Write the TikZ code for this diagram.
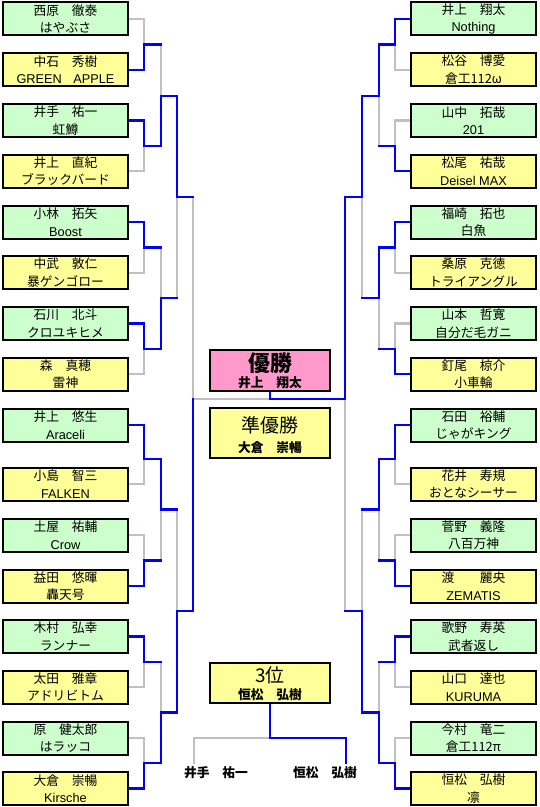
\documentclass[tikz,border=0pt]{standalone}
\usepackage{fontspec}
\setmainfont{Noto Sans CJK JP}
\newfontfamily\latfont{Liberation Sans}
\usetikzlibrary{calc}
\pgfdeclarelayer{whitebg}
\pgfdeclarelayer{graylines}
\pgfdeclarelayer{bluelines}
\pgfsetlayers{whitebg,graylines,bluelines,main}
\definecolor{boxgreen}{HTML}{CCFFCC}
\definecolor{boxyellow}{HTML}{FFFF99}
\definecolor{boxpink}{HTML}{FF99CC}
\definecolor{wblue}{HTML}{0000FF}
\definecolor{lgray}{HTML}{C0C0C0}
% winner, loser, junction (first round, from boxes)
\newcommand\bkfirst[3]{%
  \begin{pgfonlayer}{graylines}\draw[lose] (#2) -| (#3);\end{pgfonlayer}%
  \begin{pgfonlayer}{bluelines}\draw[win] (#1) -| (#3);\end{pgfonlayer}}
% winner junction, loser junction, next junction
\newcommand\bknext[3]{%
  \begin{pgfonlayer}{bluelines}\draw[win] (#1) -| (#3);\draw[win] (#2) -- (#2 -| #3);\end{pgfonlayer}%
  \begin{pgfonlayer}{graylines}\draw[lose] (#2 -| #3) -- (#3);\end{pgfonlayer}}
\begin{document}
\begin{tikzpicture}[x=1bp,y=-1bp,
  pbox/.style={draw=black, line width=2bp, minimum width=125bp, minimum height=33bp,
    inner sep=0pt, align=center, font=\fontsize{12.8}{17.5}\selectfont},
  gbox/.style={pbox, fill=boxgreen},
  ybox/.style={pbox, fill=boxyellow},
  cbox/.style={draw=black, line width=2bp, minimum width=120bp, inner sep=0pt},
  win/.style={draw=wblue, line width=2.2bp, line cap=rect},
  lose/.style={draw=lgray, line width=2.2bp, line cap=rect},
  boldname/.style={font=\fontsize{12.8}{14}\selectfont\bfseries, inner sep=0pt},
  bigtitle/.style={font=\fontsize{19}{20}\selectfont, inner sep=0pt}]
\begin{pgfonlayer}{whitebg}\fill[white] (0,0) rectangle (540,807);\end{pgfonlayer}
\useasboundingbox (0,0) rectangle (540,807);

% ---------- left boxes ----------
\node[gbox] (L1)  at (65.5,19)     {西原　徹泰\\はやぶさ};
\node[ybox] (L2)  at (65.5,69.75)  {中石　秀樹\\{\latfont GREEN\hspace{0.9em}APPLE}};
\node[gbox] (L3)  at (65.5,120.5)  {井手　祐一\\虹鱒};
\node[ybox] (L4)  at (65.5,171.25) {井上　直紀\\ブラックバード};
\node[gbox] (L5)  at (65.5,222)    {小林　拓矢\\{\latfont Boost}};
\node[ybox] (L6)  at (65.5,272.75) {中武　敦仁\\暴ゲンゴロー};
\node[gbox] (L7)  at (65.5,323.5)  {石川　北斗\\クロユキヒメ};
\node[ybox] (L8)  at (65.5,374.25) {森　真穂\\雷神};
\node[gbox] (L9)  at (65.5,425)    {井上　悠生\\{\latfont Araceli}};
\node[ybox] (L10) at (65.5,484)    {小島　智三\\{\latfont FALKEN}};
\node[gbox] (L11) at (65.5,535)    {土屋　祐輔\\{\latfont Crow}};
\node[ybox] (L12) at (65.5,586)    {益田　悠暉\\轟天号};
\node[gbox] (L13) at (65.5,636.5)  {木村　弘幸\\ランナー};
\node[ybox] (L14) at (65.5,687)    {太田　雅章\\アドリビトム};
\node[gbox] (L15) at (65.5,738)    {原　健太郎\\はラッコ};
\node[ybox] (L16) at (65.5,788.5)  {大倉　崇暢\\{\latfont Kirsche}};

% ---------- right boxes ----------
\node[gbox] (R1)  at (473.5,19)     {井上　翔太\\{\latfont Nothing}};
\node[ybox] (R2)  at (473.5,69.75)  {松谷　博愛\\倉工112ω};
\node[gbox] (R3)  at (473.5,120.5)  {山中　拓哉\\{\latfont 201}};
\node[ybox] (R4)  at (473.5,171.25) {松尾　祐哉\\{\latfont Deisel MAX}};
\node[gbox] (R5)  at (473.5,222)    {福崎　拓也\\白魚};
\node[ybox] (R6)  at (473.5,272.75) {桑原　克徳\\トライアングル};
\node[gbox] (R7)  at (473.5,323.5)  {山本　哲寛\\自分だ毛ガニ};
\node[ybox] (R8)  at (473.5,374.25) {釘尾　椋介\\小車輪};
\node[gbox] (R9)  at (473.5,425)    {石田　裕輔\\じゃがキング};
\node[ybox] (R10) at (473.5,484)    {花井　寿規\\おとなシーサー};
\node[gbox] (R11) at (473.5,535)    {菅野　義隆\\八百万神};
\node[ybox] (R12) at (473.5,586)    {渡　　麗央\\{\latfont ZEMATIS}};
\node[gbox] (R13) at (473.5,636.5)  {歌野　寿英\\武者返し};
\node[ybox] (R14) at (473.5,687)    {山口　達也\\{\latfont KURUMA}};
\node[gbox] (R15) at (473.5,738)    {今村　竜二\\倉工112π};
\node[ybox] (R16) at (473.5,788.5)  {恒松　弘樹\\凛};

% ---------- centre boxes ----------
\node[cbox, fill=boxpink, minimum height=41bp] (W) at (270,370.5) {};
\node[font=\fontsize{22}{24}\selectfont\bfseries, inner sep=0pt] (Wt) at (270,363) {優勝};
\node[boldname] (Wn) at (270,383) {井上　翔太};
\node[cbox, fill=boxyellow, minimum height=50bp] (S) at (270,433) {};
\node[bigtitle] (St) at (270,425) {準優勝};
\node[boldname] (Sn) at (270,448) {大倉　崇暢};
\node[cbox, fill=boxyellow, minimum height=40bp] (T) at (270,683) {};
\node[bigtitle] (Tt) at (270,675) {3位};
\node[boldname] (Tn) at (270,695) {恒松　弘樹};
\node[boldname] (N3L) at (216,773) {井手　祐一};
\node[boldname] (N3R) at (325,773) {恒松　弘樹};

% ---------- junctions ----------
\foreach \s/\a/\b/\c/\d in {L/144/161/177/193, R/395/379/362/345}{
  \coordinate (J1\s) at (\a,44.5);
  \coordinate (J2\s) at (\a,146);
  \coordinate (J3\s) at (\a,247.5);
  \coordinate (J4\s) at (\a,349);
  \coordinate (J5\s) at (\a,459);
  \coordinate (J6\s) at (\a,560.5);
  \coordinate (J7\s) at (\a,662);
  \coordinate (J8\s) at (\a,763);
  \coordinate (K1\s) at (\b,96);
  \coordinate (K2\s) at (\b,298);
  \coordinate (K3\s) at (\b,509.5);
  \coordinate (K4\s) at (\b,712.5);
  \coordinate (M1\s) at (\c,197);
  \coordinate (M2\s) at (\c,611);
  \coordinate (F\s)  at (\d,399);
}
\coordinate (TJ) at (270,738);
\coordinate (TL) at (194,763);
\coordinate (TR) at (346,763);

% ---------- left bracket ----------
\bkfirst{L2}{L1}{J1L}
\bkfirst{L3}{L4}{J2L}
\bkfirst{L5}{L6}{J3L}
\bkfirst{L7}{L8}{J4L}
\bkfirst{L9}{L10}{J5L}
\bkfirst{L12}{L11}{J6L}
\bkfirst{L13}{L14}{J7L}
\bkfirst{L16}{L15}{J8L}
\bknext{J2L}{J1L}{K1L}
\bknext{J4L}{J3L}{K2L}
\bknext{J5L}{J6L}{K3L}
\bknext{J8L}{J7L}{K4L}
\bknext{K1L}{K2L}{M1L}
\bknext{K4L}{K3L}{M2L}
\bknext{M2L}{M1L}{FL}

% ---------- right bracket ----------
\bkfirst{R1}{R2}{J1R}
\bkfirst{R4}{R3}{J2R}
\bkfirst{R5}{R6}{J3R}
\bkfirst{R8}{R7}{J4R}
\bkfirst{R9}{R10}{J5R}
\bkfirst{R12}{R11}{J6R}
\bkfirst{R13}{R14}{J7R}
\bkfirst{R16}{R15}{J8R}
\bknext{J1R}{J2R}{K1R}
\bknext{J3R}{J4R}{K2R}
\bknext{J5R}{J6R}{K3R}
\bknext{J8R}{J7R}{K4R}
\bknext{K1R}{K2R}{M1R}
\bknext{K4R}{K3R}{M2R}
\bknext{M1R}{M2R}{FR}

% ---------- final and third place ----------
\begin{pgfonlayer}{graylines}
  \draw[lose] (FL) -- (FL -| W.south);
  \draw[lose] (TJ) -| (TL);
\end{pgfonlayer}
\begin{pgfonlayer}{bluelines}
  \draw[win] (FR) -| (W.south);
  \draw[win] (T.south) -- (TJ) -| (TR);
\end{pgfonlayer}
\end{tikzpicture}
\end{document}
